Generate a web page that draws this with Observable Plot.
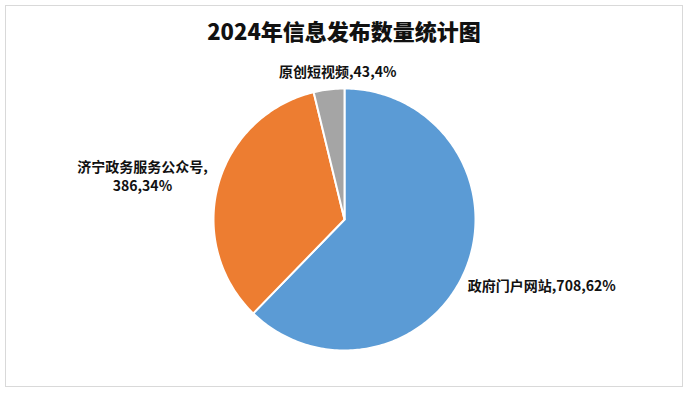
<!DOCTYPE html>
<html>
<head>
<meta charset="utf-8">
<script src="https://cdn.jsdelivr.net/npm/d3@7"></script>
<script src="https://cdn.jsdelivr.net/npm/@observablehq/plot@0.6"></script>
<style>
  html, body { margin: 0; padding: 0; background: #fff; }
  #wrap { position: relative; width: 690px; height: 393px; overflow: hidden; }
  #border { position: absolute; left: 5px; top: 5px; width: 676px; height: 380px; border: 1px solid #d9d9d9; box-sizing: content-box; }
  #title { position: absolute; left: 0; top: 15px; width: 688px; text-align: center;
           font-family: "Noto Sans CJK SC", sans-serif; font-weight: 900; font-size: 22px; color: #111; line-height: 30px; }
  #chart { position: absolute; left: 0; top: 0; }
</style>
</head>
<body>
<div id="wrap">
  <div id="border"></div>
  <div id="chart"></div>
  <div id="title">2024年信息发布数量统计图</div>
</div>
<script>
const categories = ["政府门户网站", "济宁政务服务公众号", "原创短视频"];
const values = [708, 386, 43];
const percentLabels = ["62%", "34%", "4%"];
const colors = ["#5B9BD5", "#ED7D31", "#A5A5A5"];

const data = categories.map((c, i) => ({category: c, value: values[i], pct: percentLabels[i]}));
const arcs = d3.pie().sort(null).value(d => d.value)(data);

// Build slice polygons on a unit circle from the pie angles
function slicePolygon(a) {
  const pts = [[0, 0]];
  const steps = Math.max(2, Math.ceil((a.endAngle - a.startAngle) / (Math.PI / 180)));
  for (let k = 0; k <= steps; k++) {
    const t = a.startAngle + (a.endAngle - a.startAngle) * k / steps;
    pts.push([Math.sin(t), -Math.cos(t)]);
  }
  pts.push([0, 0]);
  return pts;
}
const slices = arcs.map((a, i) => ({
  type: "Feature",
  properties: {category: a.data.category, color: colors[i]},
  geometry: {type: "Polygon", coordinates: [slicePolygon(a)]}
}));

// label anchor points just inside the rim, offset by dx/dy
const labels = arcs.map((a, i) => {
  const mid = (a.startAngle + a.endAngle) / 2;
  return {
    category: a.data.category,
    x: Math.sin(mid) * 0.95,
    y: -Math.cos(mid) * 0.95,
    text: a.data.category === "济宁政务服务公众号"
      ? `${a.data.category},\n${a.data.value},${a.data.pct}`
      : `${a.data.category},${a.data.value},${a.data.pct}`
  };
});

const font = {fontFamily: "'Noto Sans CJK SC', sans-serif", fontWeight: "bold", fontSize: 14, fill: "#111"};

const chart = Plot.plot({
  width: 690,
  height: 393,
  marginLeft: 213,
  marginRight: 215,
  marginTop: 88,
  marginBottom: 43,
  style: {background: "transparent", overflow: "visible"},
  projection: {type: "identity", clip: false, domain: {type: "MultiPoint", coordinates: [[-1, -1], [1, 1]]}},
  marks: [
    Plot.geo(slices, {fill: d => d.properties.color, stroke: "#fff", strokeWidth: 2, strokeLinejoin: "round"}),
    Plot.text(labels.filter(d => d.category === "政府门户网站"), {x: "x", y: "y", text: "text", textAnchor: "start", dx: 8, dy: 20, ...font}),
    Plot.text(labels.filter(d => d.category === "济宁政务服务公众号"), {x: "x", y: "y", text: "text", textAnchor: "middle", lineHeight: 1.35, dx: -82, dy: -11, ...font}),
    Plot.text(labels.filter(d => d.category === "原创短视频"), {x: "x", y: "y", text: "text", textAnchor: "middle", dx: 8, dy: -23, ...font})
  ]
});
document.getElementById("chart").appendChild(chart);
</script>
</body>
</html>
